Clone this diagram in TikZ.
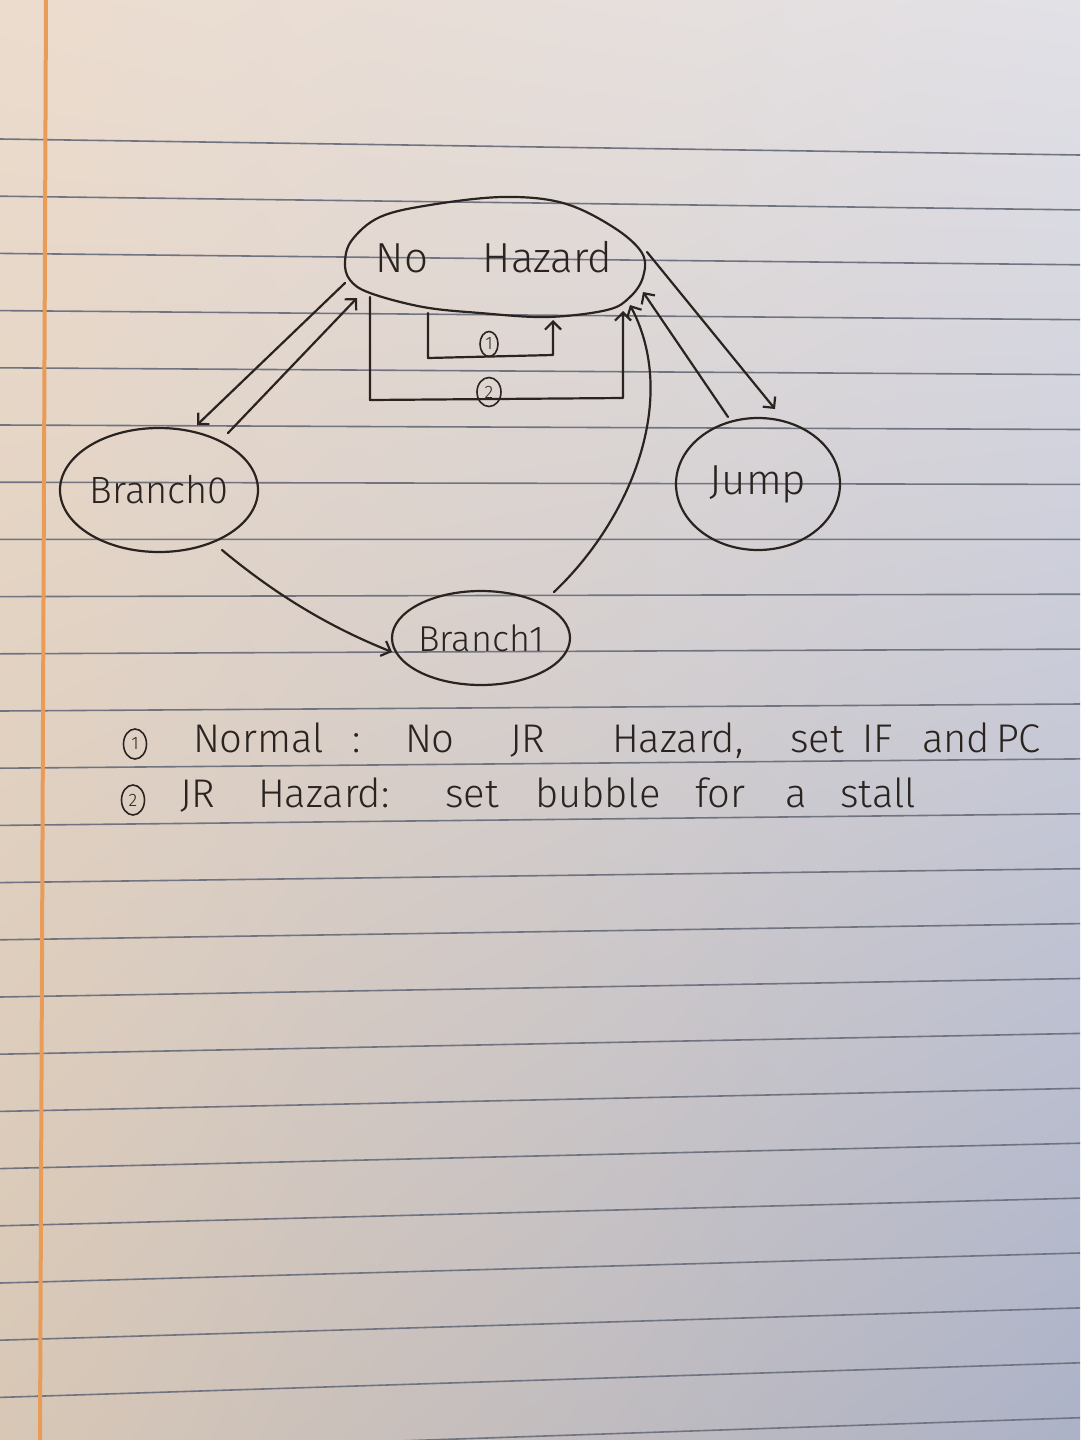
\documentclass[tikz,border=0pt]{standalone}
\usepackage{fontspec}
\setmainfont{Fira Sans Light}
\usetikzlibrary{shapes.geometric,arrows.meta,calc,shadings}
\definecolor{inkc}{RGB}{42,35,31}
\definecolor{rulec}{RGB}{112,116,128}
\definecolor{margc}{RGB}{232,156,88}
\definecolor{pUL}{RGB}{236,220,205}
\definecolor{pUR}{RGB}{226,225,231}
\definecolor{pLL}{RGB}{216,199,181}
\definecolor{pLR}{RGB}{172,178,199}
\tikzset{
  inkline/.style={draw=inkc, line width=2.2pt, line cap=round, line join=round},
  statenode/.style={ellipse, draw=inkc, line width=2.2pt, inner sep=0pt, outer sep=0pt,
    text=inkc, font=\fontsize{42}{46}\selectfont},
  arr/.style={inkline, -{Straight Barb[length=8pt,width=16pt]}},
  word/.style={anchor=base west, inner sep=0pt, outer sep=0pt, text=inkc,
    font=\fontsize{40}{44}\selectfont},
  circnum/.style={ellipse, draw=inkc, line width=1.6pt, inner sep=0pt, outer sep=0pt,
    text=inkc, font=\fontsize{18}{18}\selectfont},
  ruled/.style={draw=rulec, line width=1.6pt},
  marginline/.style={draw=margc, line width=4pt},
}
\begin{document}
\begin{tikzpicture}[x=1pt,y=-1pt]
\useasboundingbox (0,0) rectangle (1080,1440);
% paper
\shade[upper left=pUL, upper right=pUR, lower left=pLL, lower right=pLR] (0,0) rectangle (1080,1440);
\foreach \k in {0,...,23}
  \draw[ruled] (0,{139+57.2*\k}) -- (1080,{155+54.9*\k});
\draw[marginline] (46,0) -- (40,1440);

% states
\node[statenode, draw=none, minimum width=300pt, minimum height=122pt] (nh) at (494,257) {No\hspace{55pt}Hazard};
\draw[inkline] plot[smooth cycle, tension=0.6] coordinates {
  (345,262) (352,240) (380,217) (430,205) (503,197) (563,203) (613,227) (642,253)
  (643,277) (630,297) (607,310) (547,317) (480,313) (423,307) (370,293) (350,280)};
\node[statenode, minimum width=198pt, minimum height=124pt, font=\fontsize{38}{42}\selectfont] (b0) at (159,490) {Branch0};
\node[statenode, minimum width=164pt, minimum height=132pt] (j) at (758,484) {Jump};
\node[statenode, minimum width=178pt, minimum height=94pt, font=\fontsize{36}{40}\selectfont] (b1) at (481,638) {Branch1};

% transitions
\draw[arr] ($(nh)+(-149,26)$) -- ($(b0)+(38,-65)$);
\draw[arr] ($(b0)+(69,-57)$) -- ($(nh)+(-137,41)$);
\draw[arr] ($(b0)+(63,60)$) .. controls +(60,50) and +(-55,-22) .. ($(b1)+(-89,14)$);
\draw[arr] ($(b1)+(73,-46)$) .. controls +(76,-72) and +(50,95) .. ($(nh)+(136,48)$);
\draw[arr] ($(j)+(-30,-67)$) -- ($(nh)+(149,35)$);
\draw[arr] ($(nh)+(153,-5)$) -- ($(j)+(17,-75)$);
\draw[arr] ($(nh)+(-66,56)$) -- ++(0,45) -- ++(125,-3) -- ++(0,-35);
\draw[arr] ($(nh)+(-124,40)$) -- ++(0,103) -- ++(253,-2) -- ++(0,-87);
\node[circnum, minimum width=18pt, minimum height=25pt] (l1) at (489,344) {1};
\node[circnum, minimum width=24pt, minimum height=29pt] (l2) at (489,392) {2};

% legend
\node[circnum, minimum width=23pt, minimum height=30pt] (k1) at (135,744) {1};
\node[word] (w1) at (193,752) {Normal};
\node[word] (w2) at (352,752) {:};
\node[word] (w3) at (405,752) {No};
\node[word] (w4) at (510,752) {JR};
\node[word] (w5) at (612,752) {Hazard,};
\node[word] (w6) at (790,752) {set};
\node[word] (w7) at (862,752) {IF};
\node[word] (w8) at (922,752) {and};
\node[word] (w9) at (996,752) {PC};
\node[circnum, minimum width=23pt, minimum height=30pt] (k2) at (133,800) {2};
\node[word] (v1) at (180,807) {JR};
\node[word] (v2) at (258,807) {Hazard:};
\node[word] (v3) at (445,807) {set};
\node[word] (v4) at (535,807) {bubble};
\node[word] (v5) at (695,807) {for};
\node[word] (v6) at (785,807) {a};
\node[word] (v7) at (840,807) {stall};
\end{tikzpicture}
\end{document}
